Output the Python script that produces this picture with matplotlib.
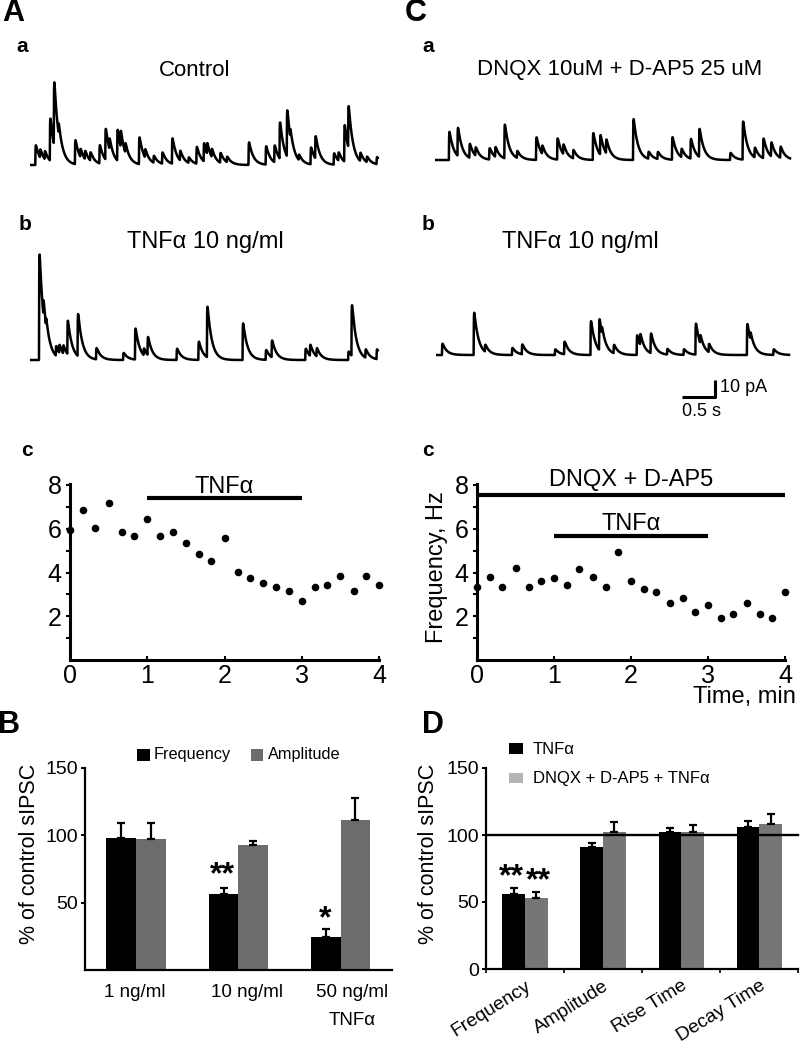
import numpy as np
import matplotlib
matplotlib.use("Agg")
import matplotlib.pyplot as plt
from matplotlib.patches import Rectangle

plt.rcParams['font.family'] = ['Liberation Sans', 'DejaVu Sans']

# ---------------- DATA ----------------
# Traces: event onset times (s) and amplitudes (pA)
aa_times = [0.08, 0.15, 0.22, 0.30, 0.36, 0.43, 0.68, 0.76, 0.83, 0.91, 1.05, 1.14, 1.20, 1.32,
            1.37, 1.44, 1.65, 1.74, 1.87, 2.00, 2.15, 2.27, 2.40, 2.52, 2.63, 2.68, 2.75, 2.88,
            2.98, 3.31, 3.57, 3.70, 3.78, 3.89, 3.94, 4.07, 4.25, 4.32, 4.60, 4.67, 4.76, 4.82,
            5.00, 5.10, 5.25]
aa_amps = [14, 6, 6, 30, 45, 8, 17, 6, 6, 6, 13, 22, 8, 22,
           12, 7, 19, 6, 5, 8, 18, 7, 4, 12, 13, 8, 6, 7,
           4, 16, 13, 12, 26, 33, 6, 4, 12, 16, 8, 6, 26, 30,
           6, 4, 5]
aa_dur = 5.27

ab_times = [0.136, 0.20, 0.24, 0.39, 0.44, 0.50, 0.565, 0.72, 1.0, 1.41, 1.59, 1.72, 1.78, 2.22,
            2.55, 2.68, 3.22, 3.57, 3.66, 4.17, 4.24, 4.34, 4.82, 4.87, 5.08, 5.25]
ab_amps = [75, 12, 6, 7, 6, 6, 24, 30, 8, 5, 22, 5, 13, 8,
           13, 36, 26, 7, 12, 8, 8, 6, 6, 36, 6, 7]
ab_dur = 5.27

ca_times = [0.21, 0.34, 0.52, 0.61, 0.82, 0.91, 1.05, 1.24, 1.53, 1.62, 1.85, 1.94, 2.09, 2.39,
            2.50, 2.59, 3.00, 3.23, 3.37, 3.59, 3.73, 3.87, 4.00, 4.47, 4.66, 4.84, 4.97, 5.09,
            5.23]
ca_amps = [20, 20, 10, 6, 8, 7, 24, 5, 16, 6, 15, 7, 6, 19,
           14, 10, 29, 5, 5, 16, 6, 14, 20, 5, 27, 7, 14, 10,
           8]
ca_dur = 5.38

cb_times = [0.09, 0.57, 0.74, 1.15, 1.30, 1.80, 1.94, 2.34, 2.47, 2.51, 2.69, 3.04, 3.09, 3.25,
            3.50, 3.75, 3.93, 4.00, 4.13, 4.71, 4.76, 5.11]
cb_amps = [8, 30, 5, 5, 7, 4, 9, 24, 22, 5, 6, 14, 8, 14,
           4, 4, 22, 6, 6, 22, 5, 4]
cb_dur = 5.35

# Time courses (min) and frequency (Hz)
time_min = [0, 0.17, 0.33, 0.5, 0.67, 0.83, 1.0, 1.17, 1.33, 1.5, 1.67, 1.83, 2.0,
            2.17, 2.33, 2.5, 2.67, 2.83, 3.0, 3.17, 3.33, 3.5, 3.67, 3.83, 4.0]
freq_tnf = [5.94, 6.86, 6.05, 7.16, 5.84, 5.67, 6.45, 5.67, 5.84, 5.36, 4.85, 4.53, 5.56,
            4.04, 3.73, 3.53, 3.34, 3.14, 2.71, 3.34, 3.43, 3.83, 3.14, 3.83, 3.43]
freq_dnqx = [3.32, 3.81, 3.32, 4.22, 3.32, 3.63, 3.73, 3.43, 4.14, 3.81, 3.32, 4.95, 3.63,
             3.23, 3.12, 2.62, 2.82, 2.21, 2.51, 1.90, 2.10, 2.62, 2.10, 1.90, 3.12]
tnf_span_A = (1, 3, 7.39)
dnqx_span_C = (0, 4, 7.54)
tnf_span_C = (1, 3, 5.67)

# Panel B
b_groups = ['1 ng/ml', '10 ng/ml', '50 ng/ml']
b_freq = [98, 56.3, 24.7]
b_freq_err = [10.6, 4.7, 5.7]
b_amp = [97, 92.3, 110.9]
b_amp_err = [12, 3, 16.3]

# Panel D
d_cats = ['Frequency', 'Amplitude', 'Rise Time', 'Decay Time']
d_tnf = [56.3, 91.3, 102, 106]
d_tnf_err = [4.2, 3, 3.5, 4.2]
d_dnqx = [52.9, 102.2, 102, 108.2]
d_dnqx_err = [4.7, 7.2, 5.4, 7.4]

# ---------------- LAYOUT ----------------
W, H = 800, 1044
fig = plt.figure(figsize=(W / 100, H / 100), dpi=100)


def ax_px(x0, y0, x1, y1):
    return fig.add_axes([x0 / W, 1 - y1 / H, (x1 - x0) / W, (y1 - y0) / H])


def tx(x, y, s, **kw):
    kw.setdefault('ha', 'center')
    kw.setdefault('va', 'center')
    return fig.text(x / W, 1 - y / H, s, **kw)


def rect_px(x0, y0, x1, y1, color):
    fig.add_artist(Rectangle((x0 / W, 1 - y1 / H), (x1 - x0) / W, (y1 - y0) / H,
                             transform=fig.transFigure, color=color, lw=0))


PXS = 66.0   # px per second
PXA = 1.7    # px per pA
TAU = 0.065


def make_trace(times, amps, dur):
    t = np.arange(0, dur, 0.001)
    y = np.zeros_like(t)
    for ti, a in zip(times, amps):
        m = t >= ti
        d = t[m] - ti
        y[m] += a * (1 - np.exp(-d / 0.003)) * np.exp(-d / TAU)
    return t, y


def trace_axes(x0, base_py, times, amps, dur):
    top, bot = 130, 70
    ax = ax_px(x0, base_py - top, x0 + PXS * 5.45, base_py + bot)
    ax.set_xlim(0, 5.45)
    ax.set_ylim(-bot / PXA, top / PXA)
    ax.axis('off')
    t, y = make_trace(times, amps, dur)
    ax.plot(t, y, color='black', lw=1.8, solid_joinstyle='round')
    return ax


trace_axes(30, 165, aa_times, aa_amps, aa_dur)
trace_axes(30, 360, ab_times, ab_amps, ab_dur)
trace_axes(435, 160, ca_times, ca_amps, ca_dur)
axcb = trace_axes(436, 355, cb_times, cb_amps, cb_dur)
# scale bar: 0.5 s x 10 pA
sb_x0 = (682 - 436) / PXS
sb_y0 = (355 - 397) / PXA
axcb.plot([sb_x0, sb_x0 + 0.5, sb_x0 + 0.5], [sb_y0, sb_y0, sb_y0 + 10],
          color='black', lw=2.2, solid_capstyle='butt', clip_on=False)
tx(720, 388, '10 pA', ha='left', fontsize=13)
tx(682, 412, '0.5 s', ha='left', fontsize=13)

# panel letters and titles
tx(13, 13, 'A', fontsize=22, fontweight='bold')
tx(416, 13, 'C', fontsize=22, fontweight='bold')
tx(22, 47, 'a', fontsize=15, fontweight='bold')
tx(25, 224, 'b', fontsize=15, fontweight='bold')
tx(428, 47, 'a', fontsize=15, fontweight='bold')
tx(428, 224, 'b', fontsize=15, fontweight='bold')
tx(27, 451, 'c', fontsize=15, fontweight='bold')
tx(428, 451, 'c', fontsize=15, fontweight='bold')
tx(9, 725, 'B', fontsize=22, fontweight='bold')
tx(433, 725, 'D', fontsize=22, fontweight='bold')

tx(195, 70, 'Control', fontsize=16)
tx(205, 242, 'TNFα 10 ng/ml', fontsize=17)
tx(620, 70, 'DNQX 10uM + D-AP5 25 uM', fontsize=16)
tx(580, 242, 'TNFα 10 ng/ml', fontsize=17)


# ---------------- time-course scatter ----------------
def time_axes(x0, x1, freq):
    ax = ax_px(x0, 660 - 8.05 * 21.875, x1, 660)
    ax.set_xlim(0, 4)
    ax.set_ylim(0, 8.05)
    for s in ['top', 'right']:
        ax.spines[s].set_visible(False)
    for s in ['left', 'bottom']:
        ax.spines[s].set_linewidth(2.2)
    ax.scatter(time_min, freq, s=30, color='black', zorder=3, clip_on=False, lw=0)
    ax.set_xticks([0, 1, 2, 3, 4])
    ax.set_yticks([2, 4, 6, 8])
    ax.set_yticks([1, 3, 5, 7], minor=True)
    ax.tick_params(axis='both', which='major', labelsize=18, length=3, width=1.5, pad=3)
    ax.tick_params(axis='y', which='minor', length=3, width=1.5)
    ax.tick_params(axis='x', direction='in')
    ax.patch.set_alpha(0)
    return ax


axc1 = time_axes(70, 379, freq_tnf)
axc1.plot(tnf_span_A[:2], [tnf_span_A[2]] * 2, color='black', lw=3, solid_capstyle='butt')
axc1.text(2, 7.62, 'TNFα', ha='center', va='baseline', fontsize=17)

axc2 = time_axes(477, 785, freq_dnqx)
axc2.plot(dnqx_span_C[:2], [dnqx_span_C[2]] * 2, color='black', lw=3,
          solid_capstyle='butt', clip_on=False)
axc2.plot(tnf_span_C[:2], [tnf_span_C[2]] * 2, color='black', lw=3, solid_capstyle='butt')
axc2.text(2, 7.95, 'DNQX + D-AP5', ha='center', va='baseline', fontsize=17, clip_on=False)
axc2.text(2, 5.92, 'TNFα', ha='center', va='baseline', fontsize=17)
tx(437, 567, 'Frequency, Hz', rotation=90, fontsize=17)
tx(796, 697, 'Time, min', ha='right', fontsize=17)

# ---------------- Panel B ----------------
BW = 0.29
GRAY_B = '#6c6c6c'
axb = ax_px(85, 970 - 150 * 1.35, 391.7, 970)
xb = np.arange(len(b_groups))
axb.bar(xb - BW / 2, b_freq, BW, color='black', zorder=2)
axb.bar(xb + BW / 2, b_amp, BW, color=GRAY_B, zorder=2)
err_kw = dict(fmt='none', ecolor='black', elinewidth=1.6, capsize=3, capthick=1.6, zorder=3)
axb.errorbar(xb - BW / 2, b_freq, yerr=[np.zeros(3), b_freq_err], **err_kw)
axb.errorbar(xb + BW / 2, b_amp, yerr=[np.zeros(3), b_amp_err], **err_kw)
axb.set_xlim(-0.5, 2.5)
axb.set_ylim(0, 150)
for s in ['top', 'right']:
    axb.spines[s].set_visible(False)
for s in ['left', 'bottom']:
    axb.spines[s].set_linewidth(1.6)
axb.set_yticks([50, 100, 150])
axb.set_xticks([])
axb.tick_params(axis='y', labelsize=14, length=3, width=1.4, pad=2)
b_label_dx = [-0.01, 0.08, 0.11]
for i, lab in enumerate(b_groups):
    axb.text(xb[i] + b_label_dx[i], -0.109, lab, transform=axb.get_xaxis_transform(),
             ha='center', va='center', fontsize=13.5)
axb.text(xb[2] + b_label_dx[2], -0.247, 'TNFα', transform=axb.get_xaxis_transform(),
         ha='center', va='center', fontsize=13.5)
axb.text(xb[1] - BW / 2 - 0.01, b_freq[1] + b_freq_err[1] + 3.5, '**', ha='center',
         va='baseline', fontsize=23, fontweight='bold')
axb.text(xb[2] - BW / 2 - 0.01, b_freq[2] + b_freq_err[2] + 1.0, '*', ha='center',
         va='baseline', fontsize=23, fontweight='bold')
tx(30, 854, '% of control sIPSC', rotation=90, fontsize=15.5)
rect_px(137, 749, 150, 761, 'black')
tx(154, 755, 'Frequency', ha='left', fontsize=11.7)
rect_px(251, 749, 263, 761, GRAY_B)
tx(268, 755, 'Amplitude', ha='left', fontsize=11.7)

# ---------------- Panel D ----------------
GRAY_D = '#767676'
axd = ax_px(486, 969 - 150 * 1.34, 798.3, 969)
xd = np.arange(len(d_cats))
axd.bar(xd - BW / 2, d_tnf, BW, color='black', zorder=2)
axd.bar(xd + BW / 2, d_dnqx, BW, color=GRAY_D, zorder=2)
axd.errorbar(xd - BW / 2, d_tnf, yerr=[np.zeros(4), d_tnf_err], **err_kw)
axd.errorbar(xd + BW / 2, d_dnqx, yerr=[np.zeros(4), d_dnqx_err], **err_kw)
axd.axhline(100, color='black', lw=1.7, zorder=4, clip_on=False)
axd.set_xlim(-0.5, 3.5)
axd.set_ylim(0, 150)
for s in ['top', 'right']:
    axd.spines[s].set_visible(False)
for s in ['left', 'bottom']:
    axd.spines[s].set_linewidth(1.6)
axd.set_yticks([0, 50, 100, 150])
axd.tick_params(axis='y', labelsize=14, length=3, width=1.4, pad=2)
axd.set_xticks(xd)
axd.set_xticklabels(d_cats, rotation=32, ha='right', rotation_mode='anchor', fontsize=13.8)
axd.tick_params(axis='x', which='major', length=0, pad=6)
axd.set_xticks(np.arange(-0.5, 4.0, 1.0), minor=True)
axd.tick_params(axis='x', which='minor', length=3, width=1.2)
axd.text(xd[0] - BW / 2 - 0.03, d_tnf[0] + d_tnf_err[0] + 2.0, '**', ha='center',
         va='baseline', fontsize=23, fontweight='bold')
axd.text(xd[0] + BW / 2 + 0.02, d_dnqx[0] + d_dnqx_err[0] + 2.2, '**', ha='center',
         va='baseline', fontsize=23, fontweight='bold')
tx(428, 854, '% of control sIPSC', rotation=90, fontsize=15.5)
rect_px(509, 743, 523, 754, 'black')
tx(533, 749, 'TNFα', ha='left', fontsize=12)
rect_px(509, 773, 523, 783, '#b4b4b4')
tx(533, 778, 'DNQX + D-AP5 + TNFα', ha='left', fontsize=12)

fig.savefig('out.png', dpi=100, facecolor='white')
